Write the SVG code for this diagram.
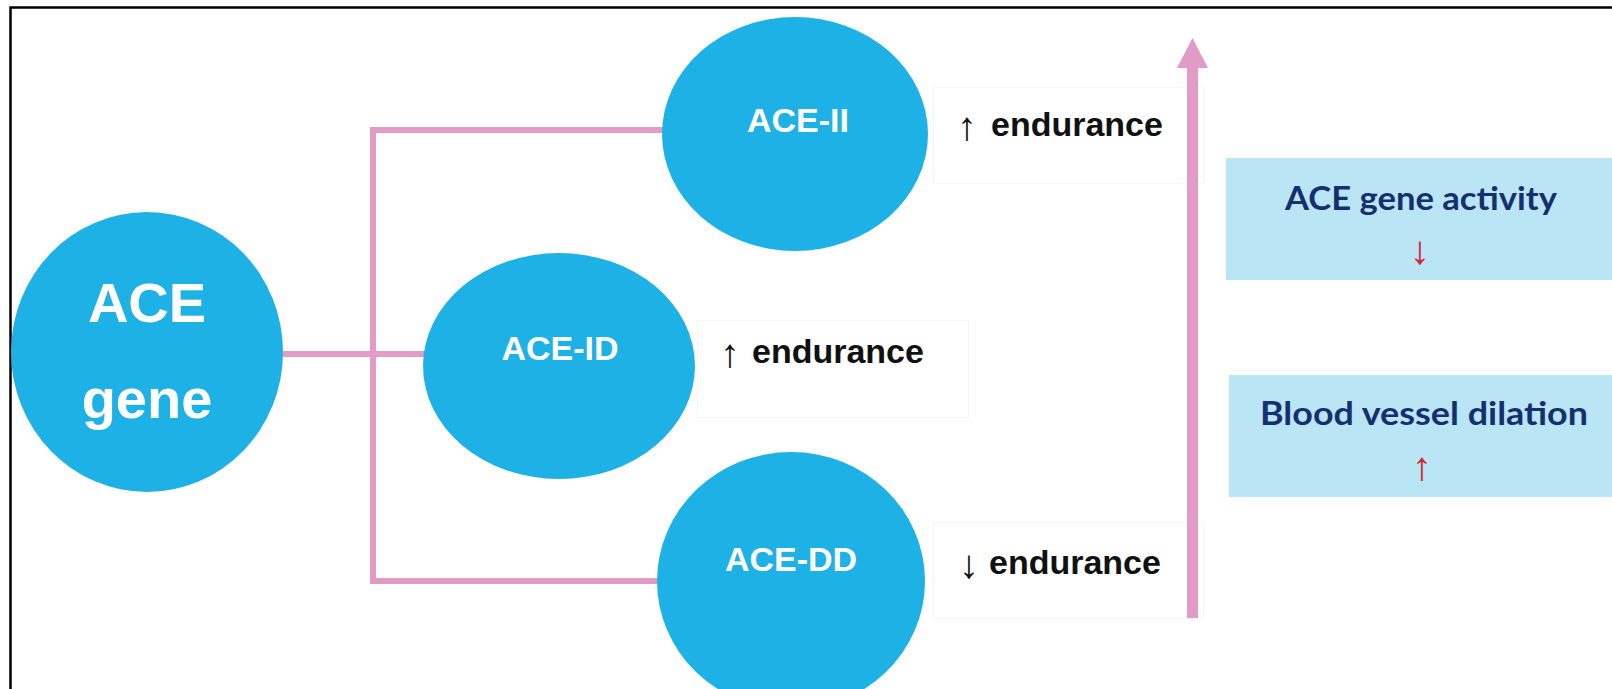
<svg xmlns="http://www.w3.org/2000/svg" width="1612" height="689" viewBox="0 0 1612 689">
  <style>
    .node { fill: #1EB1E6; }
    .node-label { font-family: "Liberation Sans", Arial, sans-serif; font-weight: bold; fill: #FFFFFF; text-anchor: middle; }
    .link { stroke: #E29AC6; stroke-width: 6; fill: none; stroke-linecap: square; }
    .effect { font-family: "Liberation Sans", Arial, sans-serif; font-size: 34px; fill: #111111; }
    .effect .word { font-weight: bold; }
    .effect .sign { font-size: 40px; }
    .label-box { fill: #FFFFFF; stroke: #F5F5F5; stroke-width: 1; }
    .panel { fill: #B9E5F5; }
    .panel-title { font-family: Lato, "Open Sans", "Liberation Sans", sans-serif; font-weight: bold; font-size: 32px; fill: #15306E; text-anchor: middle; }
    .trend { font-family: "Liberation Sans", Arial, sans-serif; font-size: 40px; fill: #D3222E; text-anchor: middle; }
  </style>

  <rect width="1612" height="689" fill="#FFFFFF"/>
  <!-- frame -->
  <path d="M10.5,689 V7.5 H1612" fill="none" stroke="#000000" stroke-width="2.5"/>

  <!-- faint label boxes behind the endurance notes -->
  <g id="label-boxes">
    <rect class="label-box" x="933.5" y="87.5" width="270" height="96"/>
    <rect class="label-box" x="697.5" y="320.5" width="271" height="97"/>
    <rect class="label-box" x="933.5" y="522.5" width="270" height="96"/>
  </g>

  <!-- connectors -->
  <g id="connectors">
    <path class="link" d="M283,354 H424"/>
    <path class="link" d="M373,130 V581"/>
    <path class="link" d="M373,130 H662"/>
    <path class="link" d="M373,581 H658"/>
    <!-- rising trend arrow -->
    <rect x="1187" y="66" width="11" height="552" fill="#E29AC6"/>
    <polygon points="1177,68 1208,68 1192.5,38" fill="#E29AC6"/>
  </g>

  <g id="node-ace-gene">
    <ellipse class="node" cx="147" cy="352" rx="136" ry="140"/>
    <text class="node-label" x="147" y="322" font-size="56">ACE</text>
    <text class="node-label" x="147" y="418" font-size="56">gene</text>
  </g>

  <g id="node-ace-ii">
    <ellipse class="node" cx="795" cy="134" rx="133" ry="117"/>
    <text class="node-label" x="798" y="132" font-size="34">ACE-II</text>
  </g>

  <g id="node-ace-id">
    <ellipse class="node" cx="559" cy="366" rx="136" ry="113"/>
    <text class="node-label" x="560" y="360" font-size="34">ACE-ID</text>
  </g>

  <g id="node-ace-dd">
    <ellipse class="node" cx="791" cy="581" rx="134" ry="129"/>
    <text class="node-label" x="791" y="571" font-size="34">ACE-DD</text>
  </g>

  <g id="effect-ii" class="effect">
    <text class="sign" x="957" y="140">↑</text>
    <text class="word" x="991" y="136">endurance</text>
  </g>

  <g id="effect-id" class="effect">
    <text class="sign" x="720" y="367">↑</text>
    <text class="word" x="752" y="363">endurance</text>
  </g>

  <g id="effect-dd" class="effect">
    <text class="sign" x="959" y="578">↓</text>
    <text class="word" x="989" y="574">endurance</text>
  </g>

  <g id="panel-activity">
    <rect class="panel" x="1226" y="158" width="386" height="122"/>
    <text class="panel-title" x="1421" y="210" textLength="272" lengthAdjust="spacingAndGlyphs">ACE gene activity</text>
    <text class="trend" x="1420" y="264">↓</text>
  </g>

  <g id="panel-dilation">
    <rect class="panel" x="1229" y="375" width="383" height="122"/>
    <text class="panel-title" x="1424" y="425" textLength="328" lengthAdjust="spacingAndGlyphs">Blood vessel dilation</text>
    <text class="trend" x="1422" y="480">↑</text>
  </g>
</svg>
